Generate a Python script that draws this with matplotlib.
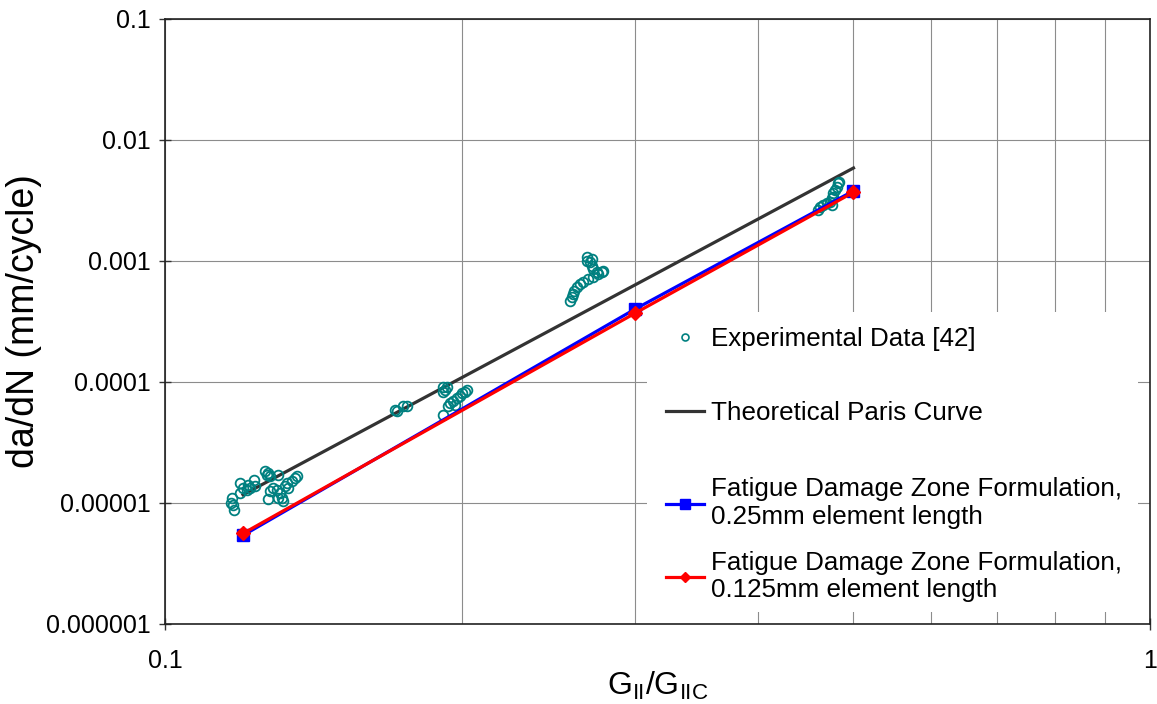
import matplotlib
matplotlib.use('Agg')
import matplotlib.pyplot as plt
from matplotlib.patches import Rectangle
from matplotlib.ticker import NullFormatter, FixedLocator

plt.rcParams['font.family'] = ['Liberation Sans', 'DejaVu Sans']

exp_x = [0.1170, 0.1172, 0.1167, 0.1175, 0.1192, 0.1192, 0.1200, 0.1214, 0.1220, 0.1210,
         0.1231, 0.1234, 0.1263, 0.1272, 0.1278, 0.1270, 0.1302, 0.1278, 0.1287, 0.1299,
         0.1308, 0.1315, 0.1318, 0.1302, 0.1272, 0.1329, 0.1345, 0.1355, 0.1361, 0.1325,
         0.1333,
         0.1712, 0.1720, 0.1745, 0.1761, 0.1915, 0.1924, 0.1915, 0.1933, 0.1915, 0.1947,
         0.1961, 0.1979, 0.1993, 0.2002, 0.2017, 0.2026, 0.1938, 0.1970,
         0.2577, 0.2589, 0.2595, 0.2601, 0.2620, 0.2638, 0.2657, 0.2688, 0.2720, 0.2752,
         0.2778, 0.2784, 0.2682, 0.2682, 0.2701, 0.2713, 0.2720, 0.2713, 0.2745,
         0.4601, 0.4624, 0.4656, 0.4700, 0.4733, 0.4756, 0.4767, 0.4789, 0.4811, 0.4822,
         0.4834, 0.4756, 0.4767]
exp_y = [1.10e-5, 9.7e-6, 1.00e-5, 8.8e-6, 1.47e-5, 1.21e-5, 1.33e-5, 1.42e-5, 1.33e-5, 1.29e-5,
         1.56e-5, 1.38e-5, 1.84e-5, 1.77e-5, 1.67e-5, 1.71e-5, 1.71e-5, 1.26e-5, 1.33e-5, 1.29e-5,
         1.21e-5, 1.10e-5, 1.04e-5, 1.10e-5, 1.07e-5, 1.47e-5, 1.52e-5, 1.61e-5, 1.67e-5, 1.38e-5,
         1.33e-5,
         5.86e-5, 5.71e-5, 6.28e-5, 6.28e-5, 9.16e-5, 8.55e-5, 8.30e-5, 9.16e-5, 5.30e-5, 6.65e-5,
         6.90e-5, 7.31e-5, 7.59e-5, 8.04e-5, 8.30e-5, 8.55e-5, 6.28e-5, 6.40e-5,
         4.66e-4, 5.03e-4, 5.32e-4, 5.62e-4, 6.07e-4, 6.42e-4, 6.67e-4, 7.06e-4, 7.33e-4, 7.76e-4,
         8.06e-4, 8.22e-4, 1.07e-3, 9.93e-4, 9.75e-4, 9.04e-4, 8.53e-4, 1.03e-3, 8.06e-4,
         2.65e-3, 2.81e-3, 2.92e-3, 3.03e-3, 3.09e-3, 3.33e-3, 3.66e-3, 3.87e-3, 4.09e-3, 4.42e-3,
         4.50e-3, 2.92e-3, 3.39e-3]

paris_x = [0.12, 0.5]
paris_y = [1.17e-5, 5.87e-3]

fdz025_x = [0.12, 0.3, 0.5]
fdz025_y = [5.4e-6, 4.0e-4, 3.8e-3]

fdz0125_x = [0.12, 0.3, 0.5]
fdz0125_y = [5.6e-6, 3.7e-4, 3.7e-3]

yticks = [1e-6, 1e-5, 1e-4, 1e-3, 1e-2, 1e-1]
ytick_labels = ['0.000001', '0.00001', '0.0001', '0.001', '0.01', '0.1']
xticks = [0.1, 1]
xtick_labels = ['0.1', '1']
xgrid = [0.2, 0.3, 0.4, 0.5, 0.6, 0.7, 0.8, 0.9]

fig = plt.figure(figsize=(11.57, 7.04), dpi=100)
ax = fig.add_axes([165/1157, 1 - 624/704, 985/1157, 605/704])
ax.set_xscale('log')
ax.set_yscale('log')
ax.set_xlim(0.1, 1)
ax.set_ylim(1e-6, 0.1)
ax.set_axisbelow(True)

ax.plot(exp_x, exp_y, 'o', ls='none', mfc='none', mec='#008080', ms=7, mew=1.3,
        label='Experimental Data [42]', zorder=3)
ax.plot(paris_x, paris_y, '-', color='#333333', lw=2.3, label='Theoretical Paris Curve', zorder=2.5)
ax.plot(fdz025_x, fdz025_y, '-s', color='#0000ff', lw=2.3, ms=8.5,
        label='Fatigue Damage Zone Formulation,\n0.25mm element length', zorder=4)
ax.plot(fdz0125_x, fdz0125_y, '-D', color='#ff0000', lw=2.3, ms=7,
        label='Fatigue Damage Zone Formulation,\n0.125mm element length', zorder=5)

ax.set_yticks(yticks)
ax.set_yticklabels(ytick_labels)
ax.yaxis.set_minor_formatter(NullFormatter())
ax.yaxis.set_minor_locator(FixedLocator([]))
ax.set_xticks(xticks)
ax.set_xticklabels(xtick_labels)
ax.xaxis.set_minor_locator(FixedLocator(xgrid))
ax.xaxis.set_minor_formatter(NullFormatter())

ax.tick_params(axis='both', which='major', direction='inout', length=8, width=1,
               color='#333333', labelsize=18)
ax.tick_params(axis='x', which='major', pad=14)
ax.tick_params(axis='y', which='major', pad=6)
ax.tick_params(axis='x', which='minor', length=0)

ax.grid(True, which='major', axis='both', color='#8c8c8c', lw=0.8)
ax.grid(True, which='minor', axis='x', color='#8c8c8c', lw=0.8)
for s in ax.spines.values():
    s.set_color('#222222')
    s.set_linewidth(1.2)

ax.set_xlabel(r'$\mathregular{G_{II}/G_{IIC}}$', fontsize=23)
ax.xaxis.label.set_verticalalignment('baseline')
ax.xaxis.set_label_coords(0.5, -0.118)
ax.set_ylabel('da/dN (mm/cycle)', fontsize=27, labelpad=3)

# white box behind the legend
ax.add_patch(Rectangle((0.489, 0.0198), 0.499, 0.496, transform=ax.transAxes,
                       facecolor='white', edgecolor='none', zorder=1))

h, l = ax.get_legend_handles_labels()
leg1 = ax.legend(h[:2], l[:2], loc='center left', bbox_to_anchor=(0.5086, 0.410),
                 frameon=False, fontsize=18.7, labelspacing=1.9, borderpad=0,
                 borderaxespad=0, handlelength=1.45, handletextpad=0.3)
leg1.legend_handles[0].set_markersize(5)
leg1.legend_handles[0].set_markeredgewidth(1.2)
ax.add_artist(leg1)
leg2 = ax.legend(h[2:], l[2:], loc='center left', bbox_to_anchor=(0.5086, 0.139),
                 frameon=False, fontsize=18.7, labelspacing=0.82, borderpad=0,
                 borderaxespad=0, handlelength=1.45, handletextpad=0.3)
leg2.legend_handles[0].set_markersize(6.5)
leg2.legend_handles[1].set_markersize(5.5)

fig.savefig('out.png', dpi=100)
